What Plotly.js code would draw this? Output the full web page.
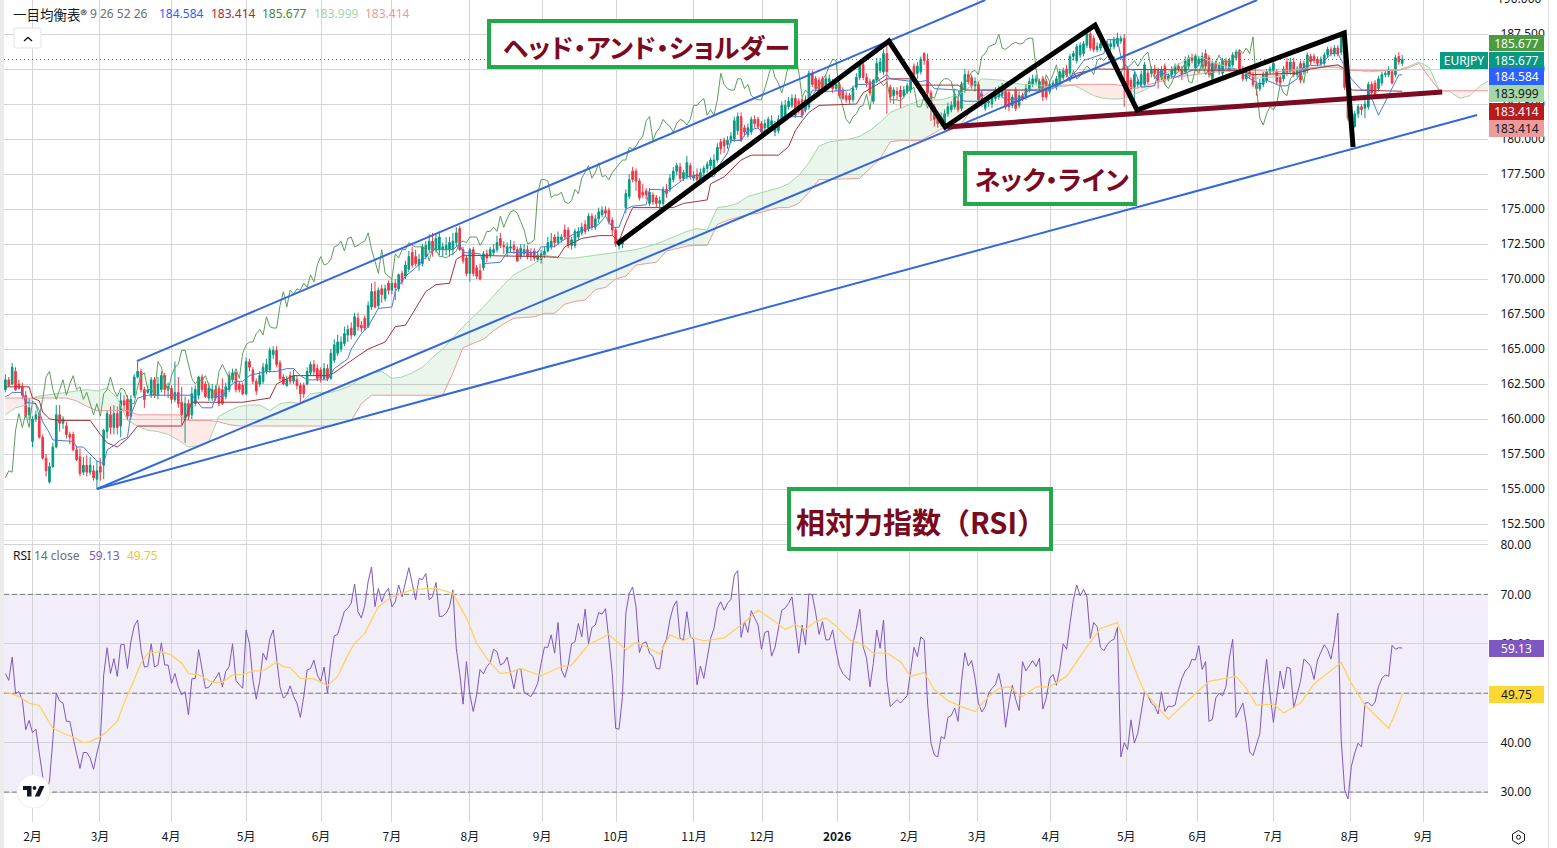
<!DOCTYPE html>
<html><head><meta charset="utf-8">
<script src="https://cdn.plot.ly/plotly-3.0.1.min.js"></script>
<style>html,body{margin:0;padding:0;background:#fff}#c{width:1557px;height:848px}
.annotation[data-index="21"] text,.annotation[data-index="22"] text{font-feature-settings:"palt" 1}</style>
</head><body><div id="c"></div>
<script>
// ---------- candle data (one value per bar) ----------
const opens=[
162.1,162.8,162.5,163.4,162.5,162.3,161.7,160.3,158.4,160,
160.2,158.7,157.2,155.5,156.6,158,160.3,159.7,159.5,158.9,
158.9,157.8,157.3,156.2,156.7,156.2,156.3,155.7,156.6,156.7,
159.1,160.3,159.4,160.4,159.5,161.3,161.4,160.2,161.7,163,
163.4,162.1,161.9,161.7,162.8,161.7,162.1,163.1,162.1,162.2,
161.4,161.9,161.2,159.9,161.1,160.3,161.1,161.7,163,162.5,
161.5,161.5,162.1,162.2,162.1,161.6,162.1,162.8,163.3,162.5,
162.4,161.8,164.1,163.5,162.7,162.5,162.7,163.4,163.5,164.6,
164.9,164,163,162.4,163.1,162.7,162.8,162.4,162.4,162.5,
163.3,163.9,163.6,163.5,162.9,163.6,162.9,164.2,164.7,165,
165.4,166,166.5,166,167.2,166.7,167.2,166.6,168,169.1,
168.1,169.3,168.6,169.7,169.2,169.7,169.3,170.4,170.2,170.7,
171.9,171.6,171,171.1,171.6,172.1,172.7,172.1,172.1,172.1,
172.1,172.1,172.1,172.6,173.6,172.1,171.5,170.4,172.1,170.8,
170.6,170.8,171.8,171.7,171.9,172.1,172.9,172.4,171.9,172.2,
172.4,172.1,171.6,171.8,172.1,171.9,172,171.4,171.4,171.7,
172,172.3,173,172.6,172.8,173.5,173.5,172.4,172.4,173,
173.3,173.9,173.6,174.5,173.7,174.3,174.6,174.9,174.9,174.2,
173.5,172.4,172.5,175.1,175.9,177.7,177.7,177,176.2,176.3,
175.4,176,175.8,175.4,175.4,176.4,176.4,177.1,177.7,178,
177.2,177.3,178.1,177.2,177.5,177.1,177.6,177.9,178.1,177.8,
178.5,179.8,179.9,179.6,179.9,180,180.6,181.6,180.8,180.3,
180.5,181.4,181.4,181.1,180.8,180.8,181,180.5,180.6,181.4,
181.6,182.3,182.4,182.9,182.7,182.8,182.1,182.3,184.7,184.3,
184.2,184.3,183.6,184.1,184,183.6,183.9,183.5,183.1,183.1,
182.8,183.7,184.4,185.3,184.4,184.1,182.7,184.2,184.9,184.8,
186.1,183.7,183.1,183.4,183.5,183.1,183.4,183.5,185.2,184.7,
184.8,186.1,185.6,183.3,182.3,181.8,181.1,181.1,181.8,182.1,
182.3,182.7,182.2,183.5,184.6,184.4,183.8,183.9,183.2,182.2,
182.6,182.5,182.9,183,183.1,183.4,183.3,182.4,183.5,182.4,
183.1,183,183.5,183.9,184.1,183.6,184.3,184.1,183.4,183.9,
183.7,184,184.4,185,184.7,185.9,185.6,186,186.1,186.7,
187.5,187.2,186.4,186.5,186.7,186.2,186.6,186.6,186.8,187,
187.2,185,184.2,183.7,183.9,183.9,183.9,184.7,184.7,185,
184.9,184.4,185.2,184.3,184.6,184.7,185.2,184.9,184.8,185.2,
185.8,185.1,185.4,185.2,186.1,185.8,184.3,185.4,184.8,184.7,
185.6,185,185.3,185.8,186.2,185,184.3,184.8,184.6,183.9,
183.6,183.9,184.2,184.8,184.9,184.8,184.4,184.3,185.5,184.8,
185.5,184.6,185.4,184.8,184.9,185.9,185.9,185.7,185.4,185.4,
186,186.4,186.1,186.5,186.2,187.1,183.7,181.8,180.9,181.8,
182.3,182.2,182.3,183.9,184,183.6,184,184.6,184.6,184.8,
184.6,185.9,185.4];
const highs=[
163.2,163,164,163.7,162.8,162.6,162,161.5,160.2,160.6,
160.4,158.9,157.5,156.9,158.3,161,161,160.2,159.8,159.1,
159.1,158.1,157.9,157.3,157.4,157.3,156.7,157,157.2,159.3,
160.6,160.9,161,160.9,161.9,161.7,161.7,161.7,163.2,164.1,
163.6,162.3,162.4,163,163,163,163.4,163.3,162.6,162.4,
164.1,163,162.3,161.6,161.4,162.3,162.4,163.1,163.2,162.7,
162.6,162.5,162.4,162.4,162.9,162.6,163.4,163.6,163.4,162.7,
162.6,164.4,164.3,163.7,162.9,163.4,164,164.3,165.1,165.2,
165.2,164.2,163.2,163.1,163.4,163.5,163.1,162.6,162.6,163.7,
164.1,164.2,163.9,163.7,164,163.9,165,165.7,166,165.9,
166.6,166.7,166.9,167.6,167.6,167,167.4,168.4,169.7,169.8,
169.4,169.6,169.6,169.9,170,170,170.4,170.6,171.3,172,
172.3,172.1,171.8,172.5,172.7,173.2,173.3,173.2,173.4,172.6,
173,173,173.3,173.7,173.8,172.3,171.7,172.2,172.3,171,
171.1,172,172.1,172.3,172.5,173.1,173.3,172.7,172.6,172.8,
172.7,172.3,172.5,172.5,172.4,172.2,172.2,172,172.1,172.3,
173,173.3,173.2,173.4,173.2,173.9,173.7,173,173.6,173.7,
174,174.2,174.7,174.7,174.6,175.1,175.2,175.2,175.1,174.4,
173.7,172.9,173,176.4,177.5,178,177.9,177.2,176.8,176.5,
176.5,176.2,176,175.9,176.6,176.8,177.5,178,178.3,178.3,
177.8,178.8,178.3,177.7,177.9,177.9,178.1,178.4,178.7,178.9,
179.7,180,180.1,180.2,180.5,181.6,181.9,181.9,181,181.1,
181.6,181.7,181.6,181.3,181.4,181.6,181.7,181.3,181.7,182.7,
182.8,183,183.2,183.2,182.9,183,183.1,184.9,184.9,184.5,
184.4,184.5,184.6,184.6,184.3,184.3,184.1,183.7,183.4,183.3,
183.8,184.7,185.5,185.5,184.7,184.3,184.3,185.8,185.8,186.4,
186.8,183.9,183.7,183.7,183.8,183.8,184,184.5,185.4,185.5,
185.9,186.2,186.1,183.5,182.5,182,181.9,182.1,182.6,182.7,
183.6,183,184.1,185,184.9,184.6,184.4,184.1,183.5,183,
182.9,183.2,183.7,183.8,184,183.6,183.5,183.2,183.7,183.4,
183.3,183.9,184.4,184.6,184.6,184.3,184.5,184.3,184.1,184.2,
184.5,185,185.1,185.3,186.1,186.3,186.8,186.9,187,187.7,
187.7,187.4,186.9,187,187.1,187,187.1,187.3,187.6,187.4,
187.5,185.2,184.4,184.8,184.3,184.9,185.5,185,185.2,185.3,
185.1,185.2,185.4,184.7,185.2,185.4,185.4,185.2,185.9,186,
186.1,186.1,185.9,186.2,186.4,186,185.6,185.6,185.5,185.8,
185.8,185.8,186.2,186.4,186.4,185.2,184.9,185,184.8,184.1,
184.3,184.8,185,185.2,185.7,185,184.6,185.2,185.8,185.8,
185.8,185.2,185.6,185.6,186.2,186.1,186.1,185.9,185.9,186.2,
186.6,186.6,186.7,186.7,187.4,187.3,183.9,182,182,182.5,
182.5,182.8,184.1,184.1,184.2,184.5,184.8,184.9,185.2,185,
186,186.2,186];
const lows=[
161.9,162.3,162.4,162,162.1,161.4,160.1,159.9,158,159.8,
158.6,157.1,155.9,155.4,156.5,157.9,159.1,159.3,158.6,158.2,
157.7,157,155.9,156,155.9,156,155.6,155,155.6,155.7,
158.6,158.9,158.9,158.9,158.7,160.6,159.9,160,161.5,162.9,
161.9,160.8,161.8,161.5,161.5,161.4,161.9,161.7,161.5,161.1,
161.2,160.8,159.6,158.3,159.9,160,160.9,161.4,161.9,161.5,
161.3,161.3,161.3,160.9,161,161.4,161.9,162.6,161.9,161.9,
161.7,161.7,163.4,162.5,161.7,162.3,162.5,163.2,163.3,164.3,
163.7,162.7,162.4,162.3,162.5,162.5,162.1,161.1,161.5,162.4,
163.1,163.1,162.7,162.6,162.8,162.7,162.8,164,164.5,164.8,
165.2,165.5,165.7,165.9,166.3,166.2,166.3,166.5,167.8,167.9,
167.9,168.3,168.4,168.9,168.9,168.5,169.1,169.6,170,170.5,
170.8,170.9,170.6,170.9,171.4,171.9,171.6,171.9,171.7,171.6,
171.7,171.6,171.7,172.3,172,171.1,170.2,169.8,170.2,170,
169.9,170.6,171.2,171.5,171.7,171.9,172.2,171.8,171.6,171.9,
171.8,171.2,171.4,171.6,171.4,171.3,171.3,171.2,171.1,171.5,
171.9,172.1,172.3,172.4,172.6,172.8,172.2,172.1,172.2,172.8,
173.1,173.2,173.4,173.5,173.5,174,174.4,174.5,173.9,173.1,
172.3,172.1,172.2,174.7,175.7,176.9,176.3,175.6,175.8,175.7,
175.2,175.3,175.1,175,175.2,175.8,176.2,176.9,177.4,177,
177,177.1,177.1,177,176.8,176.9,177.4,177.6,177.8,177.6,
178.3,178.9,179,179.3,179.7,179.8,180.3,179.8,180.2,180.1,
180.3,180.8,180.7,180.3,180.5,180.6,180.7,180.2,180.4,181.2,
181.4,182.1,182.2,181.5,181.8,181.5,181.9,182.1,183.7,183.4,
183.2,183.3,183.4,183.8,183.3,183.4,182.9,182.8,182.6,182.5,
182.6,183.5,184.2,184.2,183.7,183.1,182.5,184,184.7,184.6,
181.8,182.6,182.5,182.8,182.2,182.9,183.2,183.3,184.4,184.3,
184.6,185.3,183,181.3,180.9,180.8,180.9,180.9,181.6,181.9,
182.1,181.9,182,183.3,183.9,183.6,183.4,182.6,182.3,182,
182.3,182.2,182.7,182.8,182.9,182.1,182,182.2,182,182.2,
182.7,182.8,183.3,183.7,183.9,183.4,182.7,182.8,183.2,183.7,
183.5,183.8,184.2,184.4,184.5,185.6,185.4,185.8,185.9,186.5,
186.3,186.2,186.2,186.3,186.5,186,186.3,186.4,186.6,186.8,
182.3,183.5,182.9,182.1,183.6,183.7,183.7,183.9,184.4,184.4,
183.6,184.2,183.9,184.1,184.3,184.5,184.8,184.2,184.6,185,
185.4,184.9,185.2,185,185,184.4,184.1,184.9,184.6,184.5,
185,184.8,185.1,185.6,184.8,184.1,184.1,184.3,183.7,183.1,
183.4,183.7,184,184.6,184.7,183.9,183.8,184.1,184.5,184.6,
184.4,184.4,184,184.6,184.7,185.3,185.4,185.2,185.2,185.2,
185.8,185.9,185.9,185.9,186,183.5,181.3,180.7,180.8,181.5,
181.7,181.5,182.1,183.1,182.9,183.4,183.8,184.4,184.4,183.9,
184.4,185.3,185.2];
const closes=[
162.8,162.4,163.7,162.1,162.2,161.7,160.2,160.8,160,160.3,
158.7,157.2,156.3,156.6,158,160.3,159.7,160,158.9,158.7,
157.8,157.1,156.1,156.7,156.2,156.7,155.8,156.3,156.2,159.2,
160.4,159.4,160.4,159.4,161.3,161,160.2,161.4,163,163.4,
162.1,161.4,162.1,162.8,161.7,162.5,163.1,162.1,162.3,161.4,
161.9,161.1,160.3,161.1,160.2,161.8,162.1,163,162.1,161.6,
162.2,162.1,161.5,161.1,161.1,162.3,163.1,163.3,162.1,162.1,
161.8,164.1,163.7,162.7,162,163.1,163.7,163.9,164.9,164.9,
163.9,162.9,162.5,162.8,162.7,163.1,162.4,161.8,161.8,163.4,
163.9,163.4,162.9,162.9,163.6,162.9,164.7,165.3,165.5,165.5,
166.1,166.4,166,167.3,166.6,166.5,166.5,168.1,169.1,168,
169.2,168.9,169.3,169.2,169.7,169.4,170.3,169.8,171,171.6,
171,171.1,171.4,172.3,172.4,172.7,172,172.9,173,172.3,
172.4,172.6,172.7,173.3,172.1,171.3,170.4,172.1,170.4,170.2,
170,171.8,171.5,172.1,172.1,172.6,172.4,172.3,172.3,172.3,
172.1,171.3,172.2,172.1,171.6,171.6,171.5,171.7,171.8,172,
172.6,172.7,172.6,173,173,173,172.4,172.8,173.4,173.4,
173.7,173.4,174.5,173.7,174.3,174.8,174.9,174.7,174.1,173.5,
172.5,172.6,172.8,176.1,177.1,177.1,177,175.8,176,176,
176.2,175.5,175.4,175.6,176.4,176.1,177.2,177.7,178.1,177.2,
177.6,178.3,177.3,177.4,177.1,177.6,177.9,178.2,178.5,178.5,
179.4,179.3,179.5,179.9,180.2,181.3,181.6,179.9,180.5,180.8,
181.4,181.1,180.9,180.5,181.1,181.4,181.3,181,181.4,182.4,
182.4,182.7,182.9,181.7,182.1,181.7,182.8,184.7,183.9,183.6,
183.5,183.5,184.3,184.3,183.6,183.9,183.1,182.9,182.8,182.8,
183.6,184.4,185.3,184.4,184,183.3,184.2,185.4,185.5,186.1,
184.8,183,183.5,183.2,183,183.5,183.8,184.2,184.6,185.2,
185.7,185.6,183.3,182.3,181.4,181.1,181.6,181.8,182.3,182.4,
183.2,182.1,183.9,184.6,184.1,183.8,184.1,182.8,182.8,182.8,
182.7,183,183.4,183.5,183.7,182.3,182.3,183,182.2,183.1,
182.9,183.6,184.1,184.3,184.3,184.1,183,183,183.9,184,
184.3,184.8,184.9,184.6,185.9,186.1,186.6,186.7,186.8,187.5,
186.5,186.4,186.6,186.8,186.9,186.8,186.8,187.1,187.2,187.2,
185,183.7,183.6,184.6,184.1,184.6,185.3,184.1,184.9,184.7,
184.1,184.9,184.3,184.5,184.9,185.2,185,184.6,185.6,185.8,
185.6,185.9,185.7,185.9,185.2,184.6,185.4,185.1,185.3,185.6,
185.2,185.6,186,186.2,185,184.3,184.7,184.5,183.9,183.6,
184,184.6,184.8,185,185.4,184.1,184,185,184.7,185.5,
184.6,185,184.2,185.4,186,185.5,185.6,185.4,185.7,186,
186.4,186.1,186.5,186.1,187.3,183.7,181.5,181,181.8,182.3,
182.1,182.5,183.9,183.3,183.1,184.3,184.6,184.7,184.9,184,
185.8,185.5,185.68];
// ---------- Ichimoku lines: bars and values of the vertices ----------
const tenkanBars=[0,1,2,5,6,9,10,11,13,14,20,21,23,25,27,29,30,32,34,36,37,39,42,55,58,61,62,64,66,68,70,72,77,80,83,85,87,89,95,97,101,102,105,107,109,110,114,115,116,118,121,124,126,132,134,135,140,141,146,148,157,158,162,164,169,172,175,177,179,181,183,185,189,190,193,195,196,201,204,209,211,213,214,217,219,222,223,228,229,235,236,238,243,249,251,254,257,260,261,268,270,272,274,281,282,283,287,288,292,295,299,302,305,309,313,316,318,324,325,328,329,331,333,335,339,340,345,351,353,357,363,365,370,372,376,378,381,383,388,391,393,395,397,400,402,405,409,411,412];
const tenkanValues=[161.6,161.7,161.9,161.9,161.2,161.1,160.6,159.8,159,158.5,158.4,158,158,157.5,157,156.8,157.8,158.1,158.5,158.7,160.3,161.5,161.7,161.7,160.8,160.8,161.6,161.6,162.3,162.7,162.7,163.1,163.4,163.4,163.6,163.6,163.1,162.8,162.8,163.6,164.3,165,166.1,166.6,167.4,167.9,168,169.1,169.5,170.2,170.8,171.6,172.1,172.1,172.5,171.9,171.8,171.1,171.2,171.9,171.9,172.3,172.3,172.7,173.4,173.6,173.9,174.5,173.7,173.7,175,175.2,175.3,176.4,176.4,176.2,176.4,177.3,177.4,177.3,178.3,179,179.9,179.9,180.6,180.8,180.5,181,181.6,181.6,182.3,183.5,183.4,183.5,183.9,183.9,184.1,184.6,184.3,184.1,184.1,184.2,183.6,183.5,182.8,182.7,182.7,183.5,183.5,182.8,182.9,183.5,183.4,183.6,184.2,184.9,185.6,186.1,187.1,187.1,185.9,185,184.9,183.7,183.8,184.8,184.4,185,185.7,185,185,184.6,183.9,184.2,183.8,183.8,184.3,185.2,185.3,186.1,186.1,185.2,184.3,183.5,183.5,181.7,183.7,184.584,184.584];
const kijunBars=[0,7,8,10,11,13,16,25,28,30,33,36,39,52,53,55,70,78,80,85,95,97,101,107,112,115,118,120,122,124,127,131,133,135,158,163,165,170,175,179,181,183,185,197,200,207,208,212,217,220,228,231,233,235,237,240,251,253,260,268,269,281,283,296,306,312,316,322,352,364,368,381,385,393,395,397,412];
const kijunValues=[162.3,162.3,161.5,161.3,160.5,160,159.9,159.9,158.9,158.3,158,158.6,159.5,159.5,160,161.2,161.2,161.5,162.5,163.1,163.1,163.3,164,165,165.5,166.6,166.7,167.5,168.4,169.1,169.6,169.7,171.4,171.7,171.6,171.55,172.3,172.9,173.1,173.1,172.7,174,175.1,175.1,175.4,175.65,176.8,177.3,178.5,178.85,178.85,179.45,180.6,181.3,181.9,182.4,182.5,183.3,184.3,184.3,183.85,183.85,183.5,183.5,183.5,184.1,184.7,185,184.95,184.9,184.6,184.7,185,185.3,185,183.5,183.414];
// Cloud: one reading every third bar, bar 0 to bar 438
const spanA=[160.3,160.8,161,161.6,161.7,161.8,161.9,162,162.1,162,162.2,161.5,159.9,159.5,159.2,159.1,158.9,158.5,158,158.1,158.4,160.2,160.6,160.9,161,161,160.6,161.1,161.2,161.1,161.8,161.9,161.9,162.1,162.4,163,163.3,163.4,162.9,163,163.3,163.7,164.4,165,165.8,166.6,167.3,168,168.8,169.6,170.3,170.7,171.1,171.7,171.6,171.5,171.5,171.6,171.7,171.8,171.9,172,172.1,172.3,172.5,172.8,173.1,173.4,173.6,173.5,175.1,175.2,175.4,175.9,176.1,176.3,176.5,176.8,177.4,178.3,179.5,179.8,179.9,180,180.2,180.6,181.2,181.9,182.2,182.5,182.8,182.8,182.8,183,183.3,183.8,184.3,184.25,184.2,184,183.9,183.9,183.8,183.7,183.75,183.85,183.5,183.1,182.9,182.85,182.9,183.2,183.5,183.9,184.6,185.2,185.65,186,185.7,185.4,185.2,185,184.7,184.35,184.4,184.45,184.7,184.95,185.05,185.15,185.25,185.25,185,184.9,184.8,184.85,184.9,184.95,185.2,185.5,185.1,183.45,183.4,182.9,183.1,183.8,184.2];
const spanB=[161.5,161.5,161.5,161.5,161.5,161.5,161.5,161.3,160.9,160.6,160.6,160.6,160.6,160.3,160.3,160.3,160.3,160.3,159.9,159.9,159.9,159.8,159.6,159.5,159.5,159.5,159.5,159.5,159.5,159.5,159.5,159.5,159.5,159.7,159.9,161.1,161.7,161.7,161.7,161.7,161.7,161.7,161.7,161.7,163.3,165.1,165.4,165.7,166.3,166.8,167.2,167.25,167.3,167.55,167.55,168.2,168.4,168.5,169.25,169.4,170,170.2,171,171.1,171.2,172,172.2,172.35,172.4,172.4,173.9,174.2,174.4,174.6,174.7,174.9,175.1,175.1,175.4,176.2,177.1,177.1,177.15,177.2,177.2,177.9,178.6,179.8,179.9,179.9,179.9,180.3,180.7,181,181.1,182.1,183,183.5,183.5,183.5,183.5,183.5,183.6,183.85,183.85,183.9,183.9,183.9,183.9,183.9,183.8,183.6,183.8,184,184.25,184.4,184.5,184.6,184.75,184.8,184.85,184.9,184.9,184.9,184.85,184.8,184.9,185,185.05,185.1,185.15,185.1,184.9,184.9,184.9,184.9,184.9,184.9,185.1,185.4,184.4,183.45,183.45,183.45,183.45,183.45,183.45];
// ---------- RSI pane ----------
const rsi=[54,52.6,57.3,50,50.3,48.6,42.6,44.5,42,42.7,
37.9,33.2,29.8,32.2,40.6,50,48.4,48,44.3,44.3,
40.9,37.9,34.8,38,38,36.9,34.6,37.9,40.6,53.7,
59.2,54,57,53.4,59.8,59.9,55,60.4,63.6,64.8,
58.8,55.3,55.4,60,55.3,55.7,60.2,55.7,55.7,52,
54,51.3,49.7,50.3,45.6,52.9,53,58.8,55,51,
51.2,52.1,53,54.2,51.3,54.4,55.4,60,52.6,51.7,
51,62.8,60,52.7,48.8,52.4,58.1,56.7,61,62.8,
56.4,51.3,49,49.7,51.5,49.3,48,45.1,49.3,54.7,
55,56.7,53.7,52.4,55.3,50,57,61.6,61.9,64.1,
66.6,67.2,68.2,72.1,66.5,65.2,67.8,72.6,75.5,67.5,
71.2,68.5,70.3,71.2,67.5,68.5,71.9,69.5,72.2,75.4,
72.2,68.9,73.2,73,74.2,68.9,69.5,72.4,65.5,65.6,
66.2,67.5,70.9,59.1,54,47.8,56.4,49.7,46.3,49.7,
54.8,53.9,55.4,56.2,58.9,58.4,55.7,
56.1,57.3,54,50.9,54.7,55,50.2,49.7,49.3,50.5,
52,56,59.3,59.3,61.8,58.1,64.3,54.7,53.2,55.7,
60,60.4,64.1,61.4,67,60,63.3,63.8,66.3,66,
67.1,60.8,54,42.9,42.7,49.3,66.2,70.2,71.5,67.5,
58.2,60.1,60.4,58.1,57.4,55,54.9,59.4,60.9,64.8,
67.5,68.7,61.1,60.8,66.5,61.4,60.9,51.7,55.5,53,
57.4,61.1,63.1,67.2,68.5,66.8,68.2,69,73.9,74.8,
61.3,64.5,62.3,66.7,65.2,63.8,58.9,62.3,62.6,57.5,
59.3,62.8,66.8,67.2,68.2,69.5,63.5,58.1,63.8,59.8,
70.1,69.9,66.2,61.9,64.5,60.8,60.8,62.8,58.8,55.4,
54,53.2,52.6,60.1,63.1,67,59.4,57.1,51.3,56,
62.8,59.1,64.8,52.7,47.3,48,48.7,48,48.8,49.5,
54.4,59.3,57.4,61.4,60.8,48,39.9,37.5,37.1,41.2,
40.8,45.1,45.5,47,44.3,52.4,58.2,55.5,56.6,53,
48,46.2,47.3,50,51,51.7,54,
50.7,43.1,48,51.6,48.7,46.5,56.4,54.5,55.7,56.6,
55.4,57.1,46.8,49,53,53.8,51.6,55,60,58.9,
64.1,68.9,71.9,69.7,71,69.5,61.1,64.3,63.5,59.3,
58.6,59.8,60.6,60.9,63.3,37.1,40,38.6,44.6,39.9,
41.9,45.9,50.3,49.5,48,47.4,45.8,50.3,46.3,47.4,
47.3,47.6,50.7,53,54.5,55.2,56.9,56.7,59.6,54.8,
56.4,44.3,44.7,49,50,49.5,51.3,57.1,60.9,45.1,
46.6,48,43.9,38.1,37.4,39.6,41.8,51,56.9,50,
44.1,49.3,54.5,50.9,55.3,55,47,49.7,52.4,56.9,
56.3,55.4,52.8,56.7,58.4,59.8,58.8,56.9,60.8,66.2,
40.6,30.5,28.6,35.2,37.9,39.9,39.1,48,48.1,47.4,
48.2,51.3,53,53.7,53.4,59.7,58.9,59.2,59.13];
const rsiMaBars=[0,1,4,7,10,12,14,17,20,23,25,28,30,33,35,38,40,42,46,49,52,54,57,61,64,67,70,73,76,80,82,84,87,91,95,98,101,103,106,110,114,116,119,123,127,132,136,139,143,146,149,152,158,164,167,172,178,183,186,189,193,196,200,202,206,212,217,222,227,230,233,236,239,242,245,249,253,256,260,264,267,271,274,278,282,286,290,293,296,300,304,308,313,319,323,328,331,334,336,343,348,355,363,366,369,374,377,382,386,388,391,394,397,401,408,410,412];
const rsiMa=[50,50.1,49.3,48,47.5,45.3,42.9,41.9,41.1,40,40.2,41.2,42.3,44.3,48,52.7,56.1,58.1,58.4,57.7,56.1,54,53.7,52.2,52.2,53.7,53.8,54.5,54.5,56.3,55.4,55.2,53,52.9,51.5,53.4,57.7,60.1,62.1,67.5,69.5,69.9,70.7,71.1,71.2,70.2,65.2,60.1,56.1,54,54.2,55,53.5,55.4,55.7,59.8,61.9,58.8,60.3,59.4,57.9,61.8,60.6,61.4,60.6,61.2,63.8,66.8,64.5,62.9,63.8,62.9,64.5,65.2,63.6,60.8,59.8,58.1,58.1,56.4,53.4,54.2,50.7,48.5,47.3,46.3,49.3,51,51.3,49.3,51.3,51.3,53.4,59.4,63.1,64.3,58.8,53.4,50.3,44.7,48,52.4,53.4,51,47.6,47.8,46,48,51.9,53,54.7,56.2,52,47.6,42.9,46,49.75];
// ---------- axes ----------
const priceTicks=[152.5,155,157.5,160,162.5,165,167.5,170,172.5,175,177.5,180,182.5,185,187.5];
const rsiTicks=[30,40,50,60,70,80];
const rsiLevels=[30,50,70];
const timeLabels=['2月','3月','4月','5月','6月','7月','8月','9月','10月','11月','12月','<b>2026</b>','2月','3月','4月','5月','6月','7月','8月','9月'];
const timeBars=[8,27.9,48.9,71,93.1,114,137,158.3,180.1,203.1,223.2,245.3,266.6,286.6,308.4,330.6,351.7,373.9,396.6,418.2];
// ---------- drawn trend lines (bar, price) ----------
const channelTopBars=[38.8,289], channelTopPrices=[164.14,189.93];
const channelMidBars=[27,369.2], channelMidPrices=[155,189.93];
const channelLowBars=[27,434.1], channelLowPrices=[155,181.71];
const shoulderBars=[180.4,260.6,277.2,321.4,333.8,394.9,397.5];
const shoulderPrices=[172.5,187,180.86,188.14,182.07,187.57,179.43];
const neckBars=[277.8,423.8], neckPrices=[180.86,183.36];
// ---------- readouts ----------
const lastPrice=185.677;
const priceTags=['185.677','185.677','184.584','183.999','183.414','183.414'];
const rsiTags=['59.13','49.75'];

const bars=closes.map((_,i)=>i);
const xRange=[-0.41,437.3];
const none={hoverinfo:'skip',showlegend:false};
const CJK='"Noto Sans CJK JP","Noto Sans",sans-serif';
const NUM='"Noto Sans","Noto Sans CJK JP",sans-serif';
const L=4,R=1488,B=822;
const ax=x=>(x-L)/(R-L), ay=y=>1-y/B;

const traces=[];
// cloud fill, one polygon per run with the same sign
const spanBars=spanA.map((_,k)=>k*3);
(function(){
  let run=null;
  const flush=()=>{ if(!run) return;
    traces.push(Object.assign({type:'scatter',mode:'lines',x:run.x.concat(run.x.slice().reverse()),
      y:run.a.concat(run.b.slice().reverse()),fill:'toself',line:{width:0},
      fillcolor:run.up?'rgba(67,160,71,0.11)':'rgba(244,67,54,0.11)',xaxis:'x',yaxis:'y'},none));
    run=null;};
  spanBars.forEach((b,k)=>{
    const up=spanA[k]>=spanB[k];
    if(run && run.up!==up){
      const d0=spanA[k-1]-spanB[k-1], d1=spanA[k]-spanB[k], t=d0/(d0-d1);
      const cx=spanBars[k-1]+t*(b-spanBars[k-1]), cy=spanA[k-1]+t*(spanA[k]-spanA[k-1]);
      run.x.push(cx);run.a.push(cy);run.b.push(cy);
      flush();
      run={up,x:[cx],a:[cy],b:[cy]};
    }
    if(!run) run={up,x:[],a:[],b:[]};
    run.x.push(b);run.a.push(spanA[k]);run.b.push(spanB[k]);
  });
  flush();
})();
const line=(x,y,color,width,extra)=>Object.assign({type:'scatter',mode:'lines',x,y,line:Object.assign({color,width},extra||{}),xaxis:'x',yaxis:'y'},none);
traces.push(line(spanBars,spanA,'#a5d6a7',1));
traces.push(line(spanBars,spanB,'#ef9a9a',1));
traces.push(Object.assign({type:'candlestick',x:bars,open:opens,high:highs,low:lows,close:closes,
  increasing:{line:{color:'#089981',width:1},fillcolor:'#089981'},
  decreasing:{line:{color:'#f23645',width:1},fillcolor:'#f23645'},
  whiskerwidth:0,xaxis:'x',yaxis:'y'},none));
traces.push(line(bars.slice(26).map(b=>b-26),closes.slice(26),'#5a9e5c',1));
traces.push(line(kijunBars,kijunValues,'#a8323a',1));
traces.push(line(tenkanBars,tenkanValues,'#4a78e4',1));
traces.push(line(xRange,[lastPrice,lastPrice],'#089981',1,{dash:'1px,3px'}));
traces.push(line(channelTopBars,channelTopPrices,'#3367e0',2));
traces.push(line(channelMidBars,channelMidPrices,'#3367e0',2));
traces.push(line(channelLowBars,channelLowPrices,'#3367e0',2));
traces.push(line(neckBars,neckPrices,'#7b0a22',5));
traces.push(line(shoulderBars,shoulderPrices,'#000000',5));
rsiLevels.forEach(v=>traces.push(Object.assign(line(xRange,[v,v],'#787b86',1,{dash:'5px,3px'}),{yaxis:'y2'})));
traces.push(Object.assign(line(bars,rsi,'#7e57c2',1),{yaxis:'y2'}));
traces.push(Object.assign(line(rsiMaBars,rsiMa,'#fbd35f',1.3),{yaxis:'y2'}));

const pxRect=(x0,y0,x1,y1,o)=>Object.assign({type:'rect',xref:'paper',yref:'paper',x0:ax(x0),x1:ax(x1),y0:ay(y1),y1:ay(y0),layer:'above'},o);
const pxPath=(d,o)=>Object.assign({type:'path',xref:'paper',yref:'paper',layer:'above',
  path:d.map(s=>typeof s==='string'?s:ax(s[0])+','+ay(s[1])).join(' ').replace(/([MLQ]) /g,'$1')},o);
const box={line:{color:'#22a94b',width:4},fillcolor:'#ffffff'};
const shapes=[
  {type:'rect',xref:'x',yref:'y2',x0:xRange[0],x1:xRange[1],y0:30,y1:70,fillcolor:'rgba(126,87,194,0.1)',line:{width:0},layer:'below'},
  pxRect(0,0,4,848,{fillcolor:'#ececec',line:{width:0}}),
  pxRect(1548,0,1549,848,{fillcolor:'#e0e0e0',line:{width:0}}),
  pxRect(4,540,1488,541,{fillcolor:'#e6e6e6',line:{width:0},layer:'below'}),
  pxRect(489,21,796,67,box),
  pxRect(965,153,1135,204,box),
  pxRect(789,489,1051,549,box),
  // collapse button
  pxPath(['M',[16,28],'L',[39,28],'Q',[41,28],[41,30],'L',[41,46],'Q',[41,48],[39,48],'L',[16,48],'Q',[14,48],[14,46],'L',[14,30],'Q',[14,28],[16,28],'Z'],{fillcolor:'#ffffff',line:{color:'#e0e3eb',width:1}}),
  pxPath(['M',[24,41],'L',[28,37.5],'L',[32,41]],{line:{color:'#131722',width:1.4}}),
  // logo badge
  {type:'circle',xref:'paper',yref:'paper',x0:ax(17),x1:ax(50),y0:ay(808),y1:ay(775),fillcolor:'#ffffff',line:{color:'#ececec',width:1},layer:'above'},
  pxPath(['M',[23,786],'L',[31.5,786],'L',[31.5,796.5],'L',[27,796.5],'L',[27,790],'L',[23,790],'Z'],{fillcolor:'#131722',line:{width:0}}),
  {type:'circle',xref:'paper',yref:'paper',x0:ax(32.6),x1:ax(36.4),y0:ay(789.9),y1:ay(786.1),fillcolor:'#131722',line:{width:0},layer:'above'},
  pxPath(['M',[39.7,786],'L',[44.5,786],'L',[39.6,796.5],'L',[34.8,796.5],'Z'],{fillcolor:'#131722',line:{width:0}}),
  // settings icon
  pxPath(['M',[1518.5,830.5],'L',[1524.5,834],'L',[1524.5,840.5],'L',[1518.5,844],'L',[1512.5,840.5],'L',[1512.5,834],'Z'],{line:{color:'#131722',width:1}}),
  {type:'circle',xref:'paper',yref:'paper',x0:ax(1516.5),x1:ax(1520.5),y0:ay(839.2),y1:ay(835.2),line:{color:'#131722',width:1},layer:'above'}
];

const text=(t,x,y,color,size,anchor,family,bold)=>({xref:'paper',yref:'paper',x:ax(x),y:ay(y),text:t,showarrow:false,
  xanchor:anchor||'left',yanchor:'middle',borderwidth:0,borderpad:0,font:{color,size,family:family||NUM,weight:bold?700:400}});
const tag=(t,xc,yc,w,h,bg,fg)=>({xref:'paper',yref:'paper',x:ax(xc),y:ay(yc),text:t,showarrow:false,xanchor:'center',yanchor:'middle',
  width:w,height:h,align:'center',valign:'middle',bgcolor:bg,borderwidth:0,borderpad:0,font:{color:fg,size:12,family:NUM}});
const dark='#7a0a1e';
const annotations=[
  text('190.000',1497,-1,'#131722',12),
  text('一目均衡表®',13,14,'#131722',13.5,'left',CJK),
  text('9 26 52 26',90,14,'#6a6d78',12),
  text(priceTags[2],159,14,'#2962ff',12),
  text(priceTags[4],211,14,'#b22833',12),
  text(priceTags[0],262,14,'#43883e',12),
  text(priceTags[3],314,14,'#a5d6a7',12),
  text(priceTags[5],365,14,'#ef9a9a',12),
  text('RSI',13,555,'#131722',12),
  text('14 close',34,555,'#6a6d78',12),
  text(rsiTags[0],89,555,'#7e57c2',12),
  text(rsiTags[1],127,555,'#fbc02d',12),
  tag('EURJPY',1464,60,48,17,'#089981','#ffffff'),
  tag(priceTags[0],1516.5,43,55,16,'#4a9c3f','#ffffff'),
  tag(priceTags[1],1516.5,60,55,17,'#089981','#ffffff'),
  tag(priceTags[2],1516.5,77,55,17,'#2962ff','#ffffff'),
  tag(priceTags[3],1516.5,94,55,17,'#a5d6a7','#131722'),
  tag(priceTags[4],1516.5,111,55,17,'#b71c1c','#ffffff'),
  tag(priceTags[5],1516.5,128,55,17,'#ef9a9a','#131722'),
  tag(rsiTags[0],1516.5,648,55,17,'#7e57c2','#ffffff'),
  tag(rsiTags[1],1516.5,694,55,17,'#fdd835','#131722'),
  text('ヘッド・アンド・ショルダー',646,47,dark,26,'center',CJK,true),
  text('ネック・ライン',1051,178,dark,26,'center',CJK,true),
  text('相対力指数（RSI）',921,521,dark,29,'center',CJK,true)
];

const grid='#d4d4d6';
const layout={
  width:1557,height:848,margin:{l:L,r:1557-R,t:0,b:848-B,autoexpand:false},
  paper_bgcolor:'#ffffff',plot_bgcolor:'#ffffff',showlegend:false,hovermode:false,
  font:{family:NUM,size:12,color:'#131722'},
  xaxis:{type:'linear',range:xRange,anchor:'y2',tickmode:'array',tickvals:timeBars,ticktext:timeLabels,
    tickfont:{family:CJK,size:12,color:'#131722'},showgrid:true,gridcolor:grid,gridwidth:1,zeroline:false,showline:false,
    ticks:'outside',ticklen:4,tickcolor:'rgba(0,0,0,0)',tickangle:0,rangeslider:{visible:false}},
  yaxis:{domain:[1-539/B,1],range:[151.43,189.93],side:'right',anchor:'x',tickmode:'array',tickvals:priceTicks,
    ticktext:priceTicks.map(v=>v.toFixed(3)),showgrid:true,gridcolor:grid,zeroline:false,showline:false,
    ticks:'outside',ticklen:9,tickcolor:'rgba(0,0,0,0)',tickfont:{family:NUM,size:12,color:'#131722'}},
  yaxis2:{domain:[0,1-540/B],range:[23.94,81],side:'right',anchor:'x',tickmode:'array',tickvals:rsiTicks,
    ticktext:rsiTicks.map(v=>v.toFixed(2)),showgrid:true,gridcolor:grid,zeroline:false,showline:false,
    ticks:'outside',ticklen:9,tickcolor:'rgba(0,0,0,0)',tickfont:{family:NUM,size:12,color:'#131722'}},
  shapes,annotations
};
Plotly.newPlot('c',traces,layout,{staticPlot:true,displayModeBar:false,responsive:false});
</script></body></html>
